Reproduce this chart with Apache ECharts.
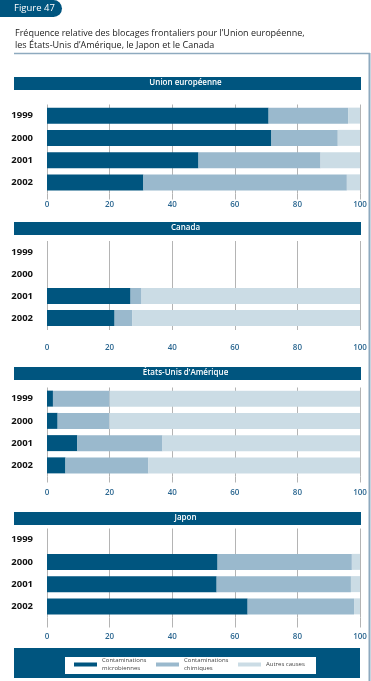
<!DOCTYPE html>
<html><head><meta charset="utf-8">
<script src="https://cdn.jsdelivr.net/npm/echarts@6/dist/echarts.min.js"></script>
<style>html,body{margin:0;padding:0;background:#fff}#c{width:371px;height:681px}</style>
</head><body><div id="c"></div>
<script>
var years = ['1999','2000','2001','2002'];
var seriesNames = ['Contaminations microbiennes','Contaminations chimiques','Autres causes'];
var legendLabels = ['Contaminations\nmicrobiennes','Contaminations\nchimiques','Autres causes'];
var panelTitles = ['Union européenne','Canada','États-Unis d\u2019Amérique','Japon'];
var xTicks = [0,20,40,60,80,100];
var euMicro = [70.8, 71.7, 48.4, 30.8];
var euChem  = [25.4, 21.2, 39.0, 65.0];
var euOther = [3.8, 7.1, 12.6, 4.2];
var caMicro = [null, null, 26.7, 21.6];
var caChem  = [null, null, 3.5, 5.7];
var caOther = [null, null, 69.8, 72.7];
var usMicro = [1.9, 3.4, 9.7, 5.9];
var usChem  = [18.1, 16.5, 27.2, 26.5];
var usOther = [80.0, 80.1, 63.1, 67.6];
var jpMicro = [null, 54.5, 54.2, 64.1];
var jpChem  = [null, 42.9, 42.9, 34.0];
var jpOther = [null, 2.6, 2.9, 1.9];

var panelData = [[euMicro,euChem,euOther],[caMicro,caChem,caOther],[usMicro,usChem,usOther],[jpMicro,jpChem,jpOther]];
var colors = ['#00557f','#9ab9cd','#cbdce5'];
var DARK = '#00557f';
var FONT = '"Open Sans", "Noto Sans", sans-serif';

var gridTops = [104.5, 241, 387.5, 528.5];
var gridH = [89, 88, 89, 89];
var tickLen = [6, 1, 6, 10];
var labMargin = [7, 15, 12.5, 15.5];
var headerTops = [77, 222, 367, 512];

var grids = [], xAxes = [], yAxes = [], series = [], graphics = [];
for (var p = 0; p < 4; p++) {
  grids.push({left: 47, width: 313, top: gridTops[p], height: gridH[p]});
  xAxes.push({
    gridIndex: p, type: 'value', min: 0, max: 100, interval: 20,
    axisLine: {show: false},
    axisTick: {show: true, length: tickLen[p], lineStyle: {color: '#b4b4b4', width: 1}},
    splitLine: {show: true, lineStyle: {color: '#b4b4b4', width: 1}},
    axisLabel: {margin: labMargin[p], color: '#2a6690', fontSize: 8, fontFamily: FONT, fontWeight: 600,
      formatter: function(v){ return xTicks.indexOf(v) >= 0 ? String(v) : ''; }}
  });
  yAxes.push({
    gridIndex: p, type: 'category', data: years, inverse: true,
    axisLine: {show: false}, axisTick: {show: false}, splitLine: {show: false},
    axisLabel: {margin: 14, color: '#111', fontSize: 9.5, fontWeight: 'bold', fontFamily: FONT, align: 'right'}
  });
  for (var s = 0; s < 3; s++) {
    series.push({
      type: 'bar', name: seriesNames[s], xAxisIndex: p, yAxisIndex: p,
      stack: 'st' + p, data: panelData[p][s], barWidth: 16,
      itemStyle: {color: colors[s]}, silent: true, animation: false
    });
  }
  graphics.push({type: 'rect', left: 14, top: headerTops[p], shape: {width: 347, height: 13}, style: {fill: DARK}});
  graphics.push({type: 'text', left: 'center', top: headerTops[p] + 1.5, style: {
    text: panelTitles[p], fill: '#fff', font: '600 8px ' + FONT}});
}
graphics.push({type: 'rect', left: 0, top: 0, shape: {width: 62, height: 17, r: [0, 9, 9, 0]}, style: {fill: DARK}});
graphics.push({type: 'text', left: 14, top: 3, style: {text: 'Figure 47', fill: '#fff', font: '9.5px ' + FONT}});
graphics.push({type: 'text', left: 15, top: 27, style: {
  text: 'Fréquence relative des blocages frontaliers pour l\u2019Union européenne,\nles États-Unis d\u2019Amérique, le Japon et le Canada',
  fill: '#222', font: '9px ' + FONT, lineHeight: 12}});
graphics.push({type: 'line', shape: {x1: 14, y1: 53.5, x2: 370, y2: 53.5}, style: {stroke: '#8eaabf', lineWidth: 1.5}});
graphics.push({type: 'line', shape: {x1: 369.5, y1: 53, x2: 369.5, y2: 681}, style: {stroke: '#8eaabf', lineWidth: 2}});
graphics.push({type: 'rect', left: 14, top: 648, shape: {width: 346, height: 30}, style: {fill: DARK}, z: 0});
graphics.push({type: 'rect', left: 65, top: 657, shape: {width: 251, height: 17}, style: {fill: '#fff'}, z: 1});

var option = {
  backgroundColor: '#fff',
  animation: false,
  grid: grids, xAxis: xAxes, yAxis: yAxes, series: series,
  graphic: {elements: graphics},
  legend: {
    data: seriesNames, left: 74, top: 657, padding: 0, itemWidth: 23, itemHeight: 4, itemGap: 6,
    icon: 'rect', selectedMode: false, z: 10,
    textStyle: {fontSize: 6, color: '#444', fontFamily: FONT, lineHeight: 7.5, width: 48},
    formatter: function(n){ return legendLabels[seriesNames.indexOf(n)]; }
  }
};
var chart = echarts.init(document.getElementById('c'), null, {renderer: 'canvas'});
chart.setOption(option);
</script></body></html>
